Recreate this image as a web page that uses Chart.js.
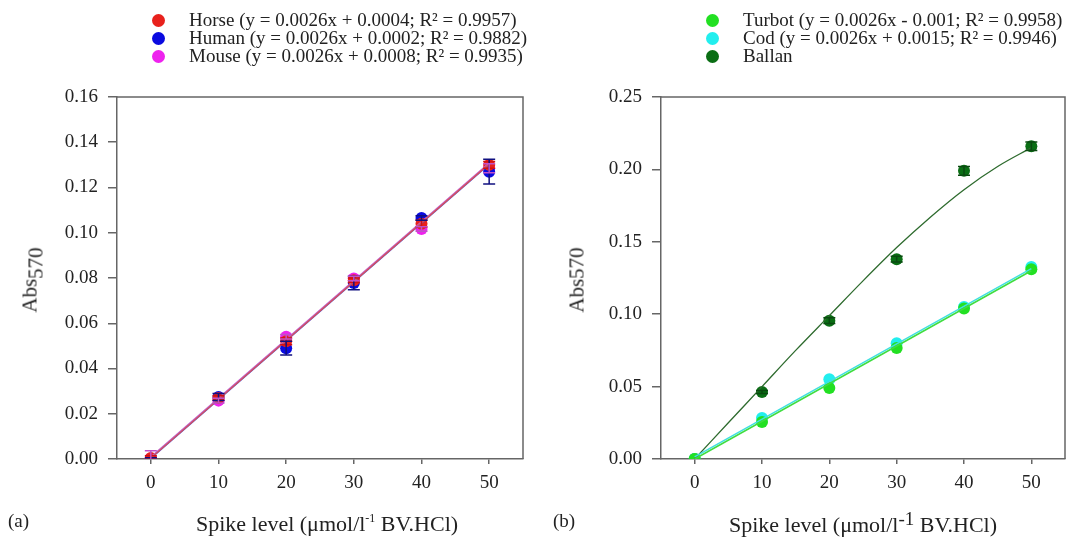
<!DOCTYPE html>
<html>
<head>
<meta charset="utf-8">
<script src="https://cdn.jsdelivr.net/npm/chart.js@4"></script>
<style>
  body { margin: 0; background: #fff; font-family: "Liberation Serif", serif; color: #222; }
  #wrap { position: relative; width: 1071px; height: 539px; overflow: hidden; }
  .panel { position: absolute; top: 0; height: 539px; }
  .legend { position: absolute; top: 11px; font-size: 19px; line-height: 18px; }
  .legend div { position: relative; white-space: nowrap; }
  .legend span.dot { position: absolute; left: -37px; top: 3px; width: 13px; height: 13px; border-radius: 50%; }
  .ytitle { position: absolute; font-size: 21px; transform: translate(-50%, -50%) rotate(-90deg); white-space: nowrap; }
  .xtitle { position: absolute; font-size: 22px; transform: translate(-50%, -50%); white-space: nowrap; }
  .tag { position: absolute; font-size: 19px; }
  sub { font-size: 21px; vertical-align: -6px; }
  sup.small { font-size: 12px; vertical-align: 9px; }
  sup.big { font-size: 19px; vertical-align: 7px; }
</style>
</head>
<body>
<div id="wrap">
  <div class="panel" style="left:0;width:540px"><canvas id="chartA"></canvas></div>
  <div class="panel" style="left:540px;width:531px"><canvas id="chartB"></canvas></div>

  <div class="legend" style="left:189px">
    <div><span class="dot" style="background:#e8211c"></span>Horse (y = 0.0026x + 0.0004; R² = 0.9957)</div>
    <div><span class="dot" style="background:#0a0ae0"></span>Human (y = 0.0026x + 0.0002; R² = 0.9882)</div>
    <div><span class="dot" style="background:#ee22ee"></span>Mouse (y = 0.0026x + 0.0008; R² = 0.9935)</div>
  </div>
  <div class="legend" style="left:743px">
    <div><span class="dot" style="background:#22e022"></span>Turbot (y = 0.0026x - 0.001; R² = 0.9958)</div>
    <div><span class="dot" style="background:#22eeee"></span>Cod (y = 0.0026x + 0.0015; R² = 0.9946)</div>
    <div><span class="dot" style="background:#0a6e14"></span>Ballan</div>
  </div>

  <div class="ytitle" style="left:33px;top:280px">Abs<sub>570</sub></div>
  <div class="ytitle" style="left:577px;top:280px">Abs570</div>
  <div class="xtitle" style="left:327px;top:524px">Spike level (μmol/l<sup class="small">-1</sup> BV.HCl)</div>
  <div class="xtitle" style="left:863px;top:523px">Spike level (μmol/l<sup class="big">-1</sup> BV.HCl)</div>
  <div class="tag" style="left:8px;top:510px">(a)</div>
  <div class="tag" style="left:553px;top:510px">(b)</div>
</div>

<script>
// --- Datos ---
const spike = [0, 10, 20, 30, 40, 50];
const fitX = [0, 50];
const xTicks = [0, 10, 20, 30, 40, 50];
const yTicksA = [0, 0.02, 0.04, 0.06, 0.08, 0.10, 0.12, 0.14, 0.16];
const yTicksB = [0, 0.05, 0.10, 0.15, 0.20, 0.25];

// panel (a)
const horse = [0.0004, 0.027, 0.052, 0.079, 0.104, 0.130];
const horseErr = [0.001, 0.001, 0.0015, 0.001, 0.0015, 0.0015];
const human = [0.000, 0.0274, 0.049, 0.0778, 0.1065, 0.127];
const humanErr = [0.0005, 0.0015, 0.003, 0.003, 0.001, 0.0055];
const mouse = [0.0002, 0.0258, 0.054, 0.0798, 0.1017, 0.1285];
const mouseErr = [0.0035, 0.001, 0.001, 0.001, 0.001, 0.002];
const horseFit = [0.0004, 0.1304];
const humanFit = [0.0002, 0.1302];
const mouseFit = [0.0008, 0.1308];

// panel (b)
const turbot = [0, 0.0256, 0.049, 0.0767, 0.104, 0.131];
const cod = [0, 0.0283, 0.055, 0.080, 0.105, 0.1326];
const ballan = [0, 0.0463, 0.0955, 0.138, 0.199, 0.216];
const ballanErr = [0, 0.001, 0.002, 0.002, 0.003, 0.003];
const turbotFit = [0.000, 0.130];
const codFit = [0.0015, 0.1315];
const ballanCurveX = [0, 5, 10, 15, 20, 25, 30, 35, 40, 45, 50];
const ballanCurve = [0, 0.025, 0.050, 0.075, 0.099, 0.123, 0.146, 0.167, 0.186, 0.202, 0.215];

// --- Utilidades ---
const pts = (xs, ys) => xs.map((x, i) => ({ x: x, y: ys[i] }));
const FONT = { family: '"Liberation Serif", serif', size: 19 };

function puntos(label, data, color, errs, errColor) {
    return {
        label: label, data: pts(spike, data), errors: errs, errColor: errColor,
        backgroundColor: color, borderColor: color, pointRadius: 6, pointHoverRadius: 6,
        pointBorderWidth: 0, showLine: false
    };
}
function linea(xs, ys, color, width, curve) {
    return {
        data: pts(xs, ys), borderColor: color, borderWidth: width, pointRadius: 0,
        showLine: true, fill: false,
        cubicInterpolationMode: curve ? 'monotone' : 'default', tension: 0
    };
}

// barras de error y marco superior/derecho
const extrasPlugin = {
    id: 'extras',
    afterDatasetsDraw(chart) {
        const ctx = chart.ctx;
        const xs = chart.scales.x, ys = chart.scales.y;
        const a = chart.chartArea;
        ctx.save();
        ctx.beginPath();
        ctx.rect(a.left, a.top, a.right - a.left, a.bottom - a.top);
        ctx.clip();
        chart.data.datasets.forEach((ds) => {
            if (!ds.errors) return;
            ctx.strokeStyle = ds.errColor;
            ctx.lineWidth = 1.5;
            ds.data.forEach((p, i) => {
                const e = ds.errors[i];
                if (!e) return;
                const px = xs.getPixelForValue(p.x);
                const top = ys.getPixelForValue(p.y + e);
                const bot = ys.getPixelForValue(p.y - e);
                ctx.beginPath();
                ctx.moveTo(px, top); ctx.lineTo(px, bot);
                ctx.moveTo(px - 6, top); ctx.lineTo(px + 6, top);
                ctx.moveTo(px - 6, bot); ctx.lineTo(px + 6, bot);
                ctx.stroke();
            });
        });
        ctx.restore();
        ctx.save();
        ctx.strokeStyle = '#666';
        ctx.lineWidth = 1.5;
        ctx.beginPath();
        ctx.moveTo(a.left, a.top); ctx.lineTo(a.right, a.top); ctx.lineTo(a.right, a.bottom);
        ctx.stroke();
        ctx.restore();
    }
};

function opciones(yTicks, yMax, yWidth, padRight) {
    return {
        responsive: true,
        maintainAspectRatio: false,
        animation: false,
        events: [],
        layout: { padding: { top: 97, right: padRight, left: 0, bottom: 0 } },
        plugins: { legend: { display: false }, tooltip: { enabled: false } },
        scales: {
            x: {
                type: 'linear', min: -5, max: 55,
                afterBuildTicks: (axis) => { axis.ticks = xTicks.map(v => ({ value: v })); },
                afterFit: (axis) => { axis.height = 80; },
                grid: { drawOnChartArea: false, drawTicks: true, tickLength: 5, color: '#666', lineWidth: 1.5 },
                border: { display: true, color: '#666', width: 1.5 },
                ticks: { font: FONT, color: '#222', padding: 8, maxRotation: 0 }
            },
            y: {
                type: 'linear', min: 0, max: yMax,
                afterBuildTicks: (axis) => { axis.ticks = yTicks.map(v => ({ value: v })); },
                afterFit: (axis) => { axis.width = yWidth; },
                grid: { drawOnChartArea: false, drawTicks: true, tickLength: 9, color: '#666', lineWidth: 1.5 },
                border: { display: true, color: '#666', width: 1.5 },
                ticks: { font: FONT, color: '#222', padding: 10, callback: (v) => v.toFixed(2) }
            }
        }
    };
}

// --- Gráfico (a) ---
new Chart(document.getElementById('chartA'), {
    type: 'scatter',
    data: {
        datasets: [
            linea(fitX, horseFit, '#e05050', 1.2),
            linea(fitX, humanFit, '#5050d0', 1.2),
            linea(fitX, mouseFit, '#c060c8', 1.6),
            puntos('Horse', horse, '#e8211c', horseErr, '#d01010'),
            puntos('Human', human, '#0a0ae0', humanErr, '#101080'),
            puntos('Mouse', mouse, '#ee22ee', mouseErr, '#c050c8')
        ]
    },
    options: opciones(yTicksA, 0.16, 117, 17),
    plugins: [extrasPlugin]
});

// --- Gráfico (b) ---
new Chart(document.getElementById('chartB'), {
    type: 'scatter',
    data: {
        datasets: [
            linea(fitX, turbotFit, '#40dd40', 1.6),
            linea(fitX, codFit, '#40e0e0', 1.6),
            linea(ballanCurveX, ballanCurve, '#2e6b2e', 1.3, true),
            puntos('Turbot', turbot, '#22e022', null, null),
            puntos('Cod', cod, '#22eeee', null, null),
            puntos('Ballan', ballan, '#0a6e14', ballanErr, '#0a4a10')
        ]
    },
    options: opciones(yTicksB, 0.25, 121, 4),
    plugins: [extrasPlugin]
});
</script>
</body>
</html>
